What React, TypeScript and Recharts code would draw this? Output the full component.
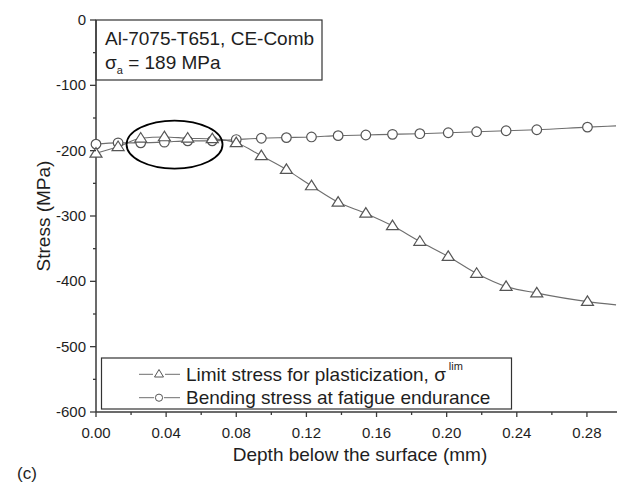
import React from "react";
import {
  LineChart,
  Line,
  XAxis,
  YAxis,
  ReferenceDot,
  Customized,
} from "recharts";

// ---- data ----
const depthMm = [
  0, 0.0126, 0.0255, 0.039, 0.0523, 0.0663, 0.08, 0.0943, 0.1086, 0.1229,
  0.1381, 0.1539, 0.1691, 0.1847, 0.2009, 0.2171, 0.2339, 0.2514, 0.2803,
  0.2966,
];
const limitStress = [
  -204, -194, -181, -179, -181, -182, -188, -208, -229, -254, -279, -296,
  -315, -339, -362, -388, -408, -418, -431, -436,
];
const bendingStress = [
  -190, -188, -188, -187, -185, -185, -183, -181, -180, -179, -177, -176,
  -175, -174, -172.6, -171, -169.5, -168, -164, -162,
];
const markerShown = depthMm.map((_, i) => i < depthMm.length - 1);

const xMajorTicks = [0, 0.04, 0.08, 0.12, 0.16, 0.2, 0.24, 0.28];
const xMinorTicks = [0.02, 0.06, 0.1, 0.14, 0.18, 0.22, 0.26];
const yMajorTicks = [0, -100, -200, -300, -400, -500, -600];
const yMinorTicks = [-50, -150, -250, -350, -450, -550];

const data = depthMm.map((d, i) => ({
  depth: d,
  limit: limitStress[i],
  bending: bendingStress[i],
  marker: markerShown[i],
}));

const FONT = '"Liberation Sans", Arial, sans-serif';
const TEXT = "#1e1e1e";
const AXIS = "#3a3a3a";
const LINE = "#6e6e6e";
const MARK = "#555";

const fmtX = (v: number) => v.toFixed(2);

const XTick = (props: any) => {
  const { x, y, payload } = props;
  const major = xMajorTicks.some((t) => Math.abs(t - payload.value) < 1e-9);
  return (
    <g>
      <line x1={x} x2={x} y1={y} y2={y + (major ? 5 : 3)} stroke={AXIS} strokeWidth={1.3} />
      {major && (
        <text x={x} y={y + 25.5} textAnchor="middle" fontSize={15} fontFamily={FONT} fill={TEXT}>
          {fmtX(payload.value)}
        </text>
      )}
    </g>
  );
};

const YTick = (props: any) => {
  const { x, y, payload } = props;
  const major = yMajorTicks.some((t) => Math.abs(t - payload.value) < 1e-9);
  return (
    <g>
      <line x1={x} x2={x - (major ? 6 : 3)} y1={y} y2={y} stroke={AXIS} strokeWidth={1.3} />
      {major && (
        <text x={x - 10} y={y + 5} textAnchor="end" fontSize={15} fontFamily={FONT} fill={TEXT}>
          {payload.value}
        </text>
      )}
    </g>
  );
};

const CircleDot = (props: any) => {
  const { cx, cy, payload, index } = props;
  if (!payload?.marker || cx == null || cy == null) return <g key={`c${index}`} />;
  return <circle key={`c${index}`} cx={cx} cy={cy} r={4.8} fill="#fff" stroke={MARK} strokeWidth={1.2} />;
};

const TriDot = (props: any) => {
  const { cx, cy, payload, index } = props;
  if (!payload?.marker || cx == null || cy == null) return <g key={`t${index}`} />;
  const h = 9.5;
  const w = 12;
  const pts = `${cx},${cy - h * 0.6} ${cx - w / 2},${cy + h * 0.4} ${cx + w / 2},${cy + h * 0.4}`;
  return <polygon key={`t${index}`} points={pts} fill="#fff" stroke={MARK} strokeWidth={1.2} />;
};

const EllipseShape = (props: any) => {
  const { cx, cy } = props;
  return <ellipse cx={cx} cy={cy} rx={48} ry={24} fill="none" stroke="#000" strokeWidth={1.8} />;
};

const Annotations = () => (
  <g fontFamily={FONT} fill={TEXT}>
    {/* info box */}
    <rect x={96} y={20} width={226} height={60} fill="#fff" stroke="#333" strokeWidth={1.2} />
    <text x={105} y={44.5} fontSize={19}>Al-7075-T651, CE-Comb</text>
    <text x={105} y={68.5} fontSize={19}>
      σ<tspan fontSize={11} dy={5}>a</tspan>
      <tspan dy={-5}> = 189 MPa</tspan>
    </text>
    {/* legend */}
    <rect x={101.5} y={358} width={410} height={51} fill="#fff" stroke="#333" strokeWidth={1.2} />
    <line x1={139} x2={153} y1={374.3} y2={374.3} stroke={LINE} strokeWidth={1} />
    <line x1={165} x2={180} y1={374.3} y2={374.3} stroke={LINE} strokeWidth={1} />
    <polygon points="159,369.5 154.5,377 163.5,377" fill="#fff" stroke={MARK} strokeWidth={1} />
    <text x={186} y={381} fontSize={19}>
      Limit stress for plasticization, σ
      <tspan fontSize={11} dy={-11} dx={3}>lim</tspan>
    </text>
    <line x1={139} x2={154} y1={397.7} y2={397.7} stroke={LINE} strokeWidth={1} />
    <line x1={164} x2={180} y1={397.7} y2={397.7} stroke={LINE} strokeWidth={1} />
    <circle cx={159} cy={397.7} r={3.6} fill="#fff" stroke={MARK} strokeWidth={1} />
    <text x={186} y={404.3} fontSize={19}>Bending stress at fatigue endurance</text>
    {/* axis titles */}
    <text x={360} y={460.5} fontSize={19} textAnchor="middle">Depth below the surface (mm)</text>
    <text
      x={50}
      y={216}
      fontSize={19}
      textAnchor="middle"
      transform="rotate(-90 50 216)"
    >
      Stress (MPa)
    </text>
    <text x={17} y={479} fontSize={17}>(c)</text>
  </g>
);

export default function App() {
  return (
    <div
      style={{
        position: "absolute",
        left: 0,
        top: 0,
        width: 617,
        height: 486,
        overflow: "hidden",
        background: "#fff",
      }}
    >
      <LineChart
        width={640}
        height={486}
        data={data}
        margin={{ top: 20, right: 18, bottom: 0, left: 0 }}
      >
        <XAxis
          xAxisId="b"
          dataKey="depth"
          type="number"
          domain={[0, 0.3]}
          ticks={[...xMajorTicks, ...xMinorTicks].sort((a, b) => a - b)}
          interval={0}
          height={74}
          tickSize={0}
          tickMargin={0}
          tick={<XTick />}
          axisLine={{ stroke: AXIS, strokeWidth: 1.5 }}
          tickLine={false}
        />
        <XAxis
          xAxisId="top"
          dataKey="depth"
          type="number"
          orientation="top"
          domain={[0, 0.3]}
          height={0}
          tick={false}
          tickLine={false}
          axisLine={{ stroke: AXIS, strokeWidth: 1.5 }}
        />
        <YAxis
          type="number"
          domain={[-600, 0]}
          ticks={[...yMajorTicks, ...yMinorTicks].sort((a, b) => a - b)}
          interval={0}
          width={96}
          tickSize={0}
          tickMargin={0}
          tick={<YTick />}
          axisLine={{ stroke: AXIS, strokeWidth: 1.5 }}
          tickLine={false}
        />
        <Line
          xAxisId="b"
          type="monotone"
          dataKey="bending"
          stroke={LINE}
          strokeWidth={1.1}
          dot={<CircleDot />}
          activeDot={false}
          isAnimationActive={false}
        />
        <Line
          xAxisId="b"
          type="monotone"
          dataKey="limit"
          stroke={LINE}
          strokeWidth={1.1}
          dot={<TriDot />}
          activeDot={false}
          isAnimationActive={false}
        />
        <ReferenceDot
          xAxisId="b"
          x={0.0448}
          y={-190.6}
          shape={<EllipseShape />}
          ifOverflow="visible"
        />
        <Customized component={<Annotations />} />
      </LineChart>
    </div>
  );
}
